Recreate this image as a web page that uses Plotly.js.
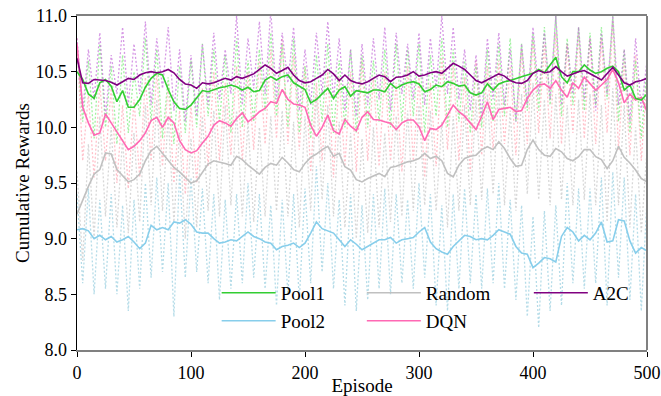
<!DOCTYPE html>
<html><head><meta charset="utf-8">
<script src="https://cdn.plot.ly/plotly-3.0.1.min.js"></script>
<style>html,body{margin:0;padding:0;background:#fff}#chart{width:661px;height:396px}</style>
</head><body><div id="chart"></div>
<script>
const seriesNames = ["Pool1", "Pool2", "Random", "DQN", "A2C"];
const smoothColors = ["#32cd32", "#87ceeb", "#c0c0c0", "#ff69b4", "#800080"];
const rawColors = ["rgba(144,238,144,0.85)", "rgba(173,216,230,0.9)", "rgba(211,211,211,0.9)", "rgba(255,182,193,0.85)", "rgba(186,85,211,0.6)"];

// smoothed curves, one value every 5 episodes (0..500)
const pool1Smooth = [10.50,10.43,10.30,10.26,10.40,10.43,10.37,10.23,10.33,10.18,
 10.18,10.25,10.36,10.44,10.485,10.47,10.34,10.23,10.17,10.16,
 10.20,10.26,10.33,10.32,10.34,10.355,10.365,10.38,10.365,10.335,
 10.36,10.32,10.33,10.425,10.455,10.425,10.455,10.47,10.40,10.37,
 10.34,10.22,10.25,10.30,10.35,10.26,10.335,10.365,10.28,10.33,
 10.32,10.31,10.335,10.335,10.32,10.395,10.35,10.38,10.40,10.41,
 10.39,10.32,10.34,10.38,10.365,10.41,10.395,10.37,10.38,10.31,
 10.29,10.31,10.39,10.335,10.39,10.41,10.42,10.44,10.455,10.47,
 10.485,10.52,10.49,10.56,10.63,10.455,10.40,10.50,10.50,10.56,
 10.515,10.485,10.50,10.53,10.55,10.50,10.335,10.38,10.26,10.245,
 10.30];
const pool2Smooth = [9.08,9.09,9.07,9.00,9.03,8.99,9.02,8.97,8.99,9.02,
 8.97,8.91,8.96,9.12,9.08,9.10,9.08,9.15,9.14,9.17,
 9.13,9.06,9.05,9.05,9.00,8.96,8.97,8.99,8.98,9.02,
 9.06,9.02,9.00,8.97,8.96,8.90,8.93,8.94,8.96,8.92,
 8.96,9.05,9.15,9.09,9.07,9.05,8.99,8.93,8.99,8.95,
 8.90,8.93,8.96,8.99,8.99,9.01,8.96,8.99,9.00,9.01,
 9.06,9.10,8.97,8.91,8.88,8.86,8.93,8.98,9.03,9.02,
 8.99,9.00,8.99,9.03,9.08,9.06,9.04,8.93,8.87,8.86,
 8.74,8.78,8.83,8.82,8.79,9.02,9.10,9.06,8.98,9.03,
 8.99,9.05,9.15,8.97,8.98,9.17,9.16,8.98,8.87,8.92,
 8.89];
const randomSmooth = [9.22,9.35,9.47,9.58,9.62,9.77,9.76,9.62,9.56,9.51,
 9.53,9.58,9.70,9.79,9.83,9.77,9.71,9.64,9.60,9.55,
 9.50,9.52,9.60,9.67,9.70,9.69,9.676,9.66,9.74,9.71,
 9.66,9.62,9.58,9.64,9.676,9.66,9.73,9.68,9.62,9.60,
 9.676,9.73,9.76,9.80,9.83,9.74,9.766,9.646,9.616,9.53,
 9.51,9.54,9.56,9.586,9.556,9.64,9.65,9.67,9.69,9.70,
 9.72,9.766,9.72,9.74,9.70,9.586,9.556,9.66,9.72,9.74,
 9.75,9.80,9.826,9.80,9.87,9.81,9.72,9.65,9.66,9.80,
 9.886,9.80,9.75,9.74,9.81,9.78,9.72,9.70,9.736,9.80,
 9.80,9.736,9.71,9.63,9.70,9.83,9.73,9.68,9.616,9.54,
 9.51];
const dqnSmooth = [10.75,10.18,10.04,9.93,9.95,10.12,10.04,9.96,9.88,9.80,
 9.83,9.88,9.95,10.06,10.09,10.00,10.09,10.04,9.88,9.80,
 9.77,9.79,9.86,9.92,10.02,10.06,10.04,10.01,10.08,10.13,
 10.05,10.09,10.14,10.17,10.23,10.215,10.34,10.25,10.21,10.20,
 10.18,10.02,9.92,10.00,10.11,9.97,9.94,10.07,10.01,9.97,
 10.09,10.14,10.07,10.066,10.05,10.036,9.98,10.04,10.066,10.066,
 10.006,9.88,9.99,9.98,10.02,10.11,10.20,10.14,10.10,10.04,
 9.98,10.10,10.23,10.07,10.16,10.17,10.18,10.14,10.15,10.26,
 10.335,10.38,10.39,10.35,10.42,10.335,10.27,10.40,10.35,10.45,
 10.39,10.335,10.38,10.43,10.52,10.40,10.22,10.30,10.245,10.27,
 10.14];
const a2cSmooth = [10.62,10.40,10.395,10.43,10.425,10.42,10.405,10.38,10.41,10.44,
 10.43,10.47,10.49,10.50,10.49,10.50,10.52,10.49,10.43,10.39,
 10.38,10.35,10.40,10.39,10.40,10.42,10.44,10.425,10.455,10.44,
 10.46,10.48,10.52,10.56,10.53,10.485,10.51,10.54,10.47,10.42,
 10.40,10.41,10.44,10.47,10.52,10.48,10.42,10.47,10.42,10.40,
 10.39,10.41,10.44,10.47,10.455,10.41,10.45,10.455,10.47,10.50,
 10.46,10.47,10.49,10.50,10.485,10.53,10.575,10.55,10.52,10.47,
 10.42,10.40,10.425,10.455,10.48,10.46,10.42,10.40,10.395,10.42,
 10.485,10.51,10.49,10.50,10.545,10.50,10.46,10.48,10.50,10.51,
 10.485,10.455,10.425,10.48,10.54,10.47,10.40,10.38,10.41,10.42,
 10.44];

// raw (unsmoothed) rewards, one value every 5 episodes (0..500)
const pool1Raw = [10.70,10.05,10.60,9.90,10.75,10.00,10.55,9.85,10.65,9.95,
 10.50,10.10,10.80,10.05,10.70,9.90,10.45,9.85,10.55,9.95,
 10.60,10.00,10.75,10.10,10.70,10.05,10.65,9.95,10.80,10.00,
 10.60,10.05,10.70,10.15,10.85,10.10,10.75,10.00,10.80,9.95,
 10.55,9.90,10.65,10.05,10.75,9.95,10.60,10.00,10.70,9.95,
 10.65,10.00,10.60,10.05,10.70,10.00,10.75,10.05,10.70,10.10,
 10.75,9.95,10.65,10.10,10.80,10.00,10.70,10.05,10.60,9.95,
 10.55,10.00,10.70,10.05,10.75,10.10,10.80,10.05,10.75,10.15,
 10.85,10.15,10.90,10.20,11.00,10.10,10.80,10.20,10.90,10.15,
 10.85,10.20,10.90,10.25,11.00,10.05,10.70,9.95,10.60,9.90,
 10.55];
const pool2Raw = [9.40,8.60,9.45,8.50,9.35,8.55,9.40,8.50,9.30,8.35,
 9.35,8.55,9.50,8.65,9.55,8.70,9.50,8.30,9.60,8.65,
 9.55,8.70,9.45,8.60,9.40,8.45,9.35,8.55,9.40,8.60,
 9.50,8.65,9.40,8.55,9.30,8.40,9.35,8.50,9.40,8.45,
 9.45,8.60,9.65,8.70,9.50,8.55,9.35,8.40,9.40,8.35,
 9.30,8.45,9.40,8.55,9.45,8.50,9.40,8.60,9.35,8.55,
 9.50,8.65,9.40,8.40,9.30,8.35,9.40,8.55,9.45,8.60,
 9.40,8.55,9.45,8.60,9.50,8.55,9.35,8.45,9.30,8.30,
 9.20,8.20,9.25,8.35,9.30,8.40,9.50,8.60,9.45,8.55,
 9.45,8.60,9.55,8.40,9.60,8.65,9.55,8.45,9.40,8.35,
 9.35];
const randomRaw = [9.60,8.80,9.85,9.00,10.10,9.20,10.00,9.10,9.90,9.05,
 9.95,9.15,10.20,9.30,10.25,9.25,10.10,9.15,9.95,9.00,
 9.90,9.10,10.10,9.25,10.15,9.20,10.20,9.30,10.15,9.20,
 10.05,9.15,10.00,9.20,10.10,9.25,10.15,9.20,10.05,9.10,
 10.10,9.25,10.30,9.35,10.20,9.20,10.05,9.10,9.95,9.00,
 9.90,9.05,10.00,9.10,9.95,9.15,10.10,9.20,10.15,9.25,
 10.20,9.30,10.15,9.25,10.05,9.10,10.10,9.25,10.20,9.30,
 10.25,9.35,10.30,9.40,10.35,9.30,10.15,9.25,10.30,9.40,
 10.40,9.35,10.25,9.30,10.30,9.35,10.20,9.30,10.25,9.35,
 10.30,9.30,10.20,9.15,10.35,9.30,10.20,9.10,10.00,9.05,
 9.80];
const dqnRaw = [10.80,9.70,10.30,9.55,10.40,9.70,10.35,9.50,10.20,9.45,
 10.25,9.55,10.45,9.70,10.50,9.65,10.40,9.50,10.15,9.40,
 10.20,9.50,10.35,9.65,10.50,9.70,10.40,9.75,10.55,9.70,
 10.50,9.80,10.60,9.85,10.70,9.90,10.80,9.85,10.65,9.80,
 10.55,9.60,10.40,9.70,10.50,9.55,10.45,9.65,10.50,9.60,
 10.60,9.70,10.45,9.65,10.50,9.70,10.40,9.60,10.55,9.70,
 10.45,9.55,10.40,9.65,10.65,9.80,10.55,9.70,10.45,9.60,
 10.60,9.75,10.55,9.80,10.60,9.85,10.55,9.75,10.70,9.85,
 10.80,9.95,10.75,9.90,10.85,9.85,10.75,9.95,10.85,9.90,
 10.80,9.85,10.80,9.95,10.95,9.80,10.60,9.75,10.65,9.70,
 10.45];
const a2cRaw = [10.80,10.15,10.70,10.25,10.85,10.10,10.65,10.30,10.90,10.20,
 10.75,10.30,10.95,10.20,10.80,10.35,10.90,10.15,10.70,10.05,
 10.65,10.10,10.75,10.20,10.85,10.25,10.70,10.30,11.00,10.20,
 10.80,10.35,10.95,10.30,11.05,10.25,10.85,10.40,10.90,10.15,
 10.70,10.20,10.85,10.30,10.95,10.25,10.80,10.15,10.70,10.10,
 10.75,10.20,10.80,10.25,10.90,10.15,10.85,10.30,10.75,10.25,
 10.85,10.20,10.80,10.35,11.00,10.30,10.90,10.25,10.70,10.15,
 10.65,10.10,10.80,10.25,10.85,10.20,10.70,10.05,10.75,10.20,
 10.90,10.30,10.85,10.25,11.00,10.20,10.75,10.30,10.90,10.25,
 10.80,10.15,10.85,10.30,11.00,10.20,10.70,10.05,10.80,10.15,
 10.60];

const xTickVals = [0, 100, 200, 300, 400, 500];
const yTickVals = [8.0, 8.5, 9.0, 9.5, 10.0, 10.5, 11.0];

const episodes = [];
for (let e = 0; e <= 500; e += 5) episodes.push(e);

const smooth = [pool1Smooth, pool2Smooth, randomSmooth, dqnSmooth, a2cSmooth];
const raw = [pool1Raw, pool2Raw, randomRaw, dqnRaw, a2cRaw];
// one legend box per entry: columns (Pool1,Pool2) (Random,DQN) (A2C)
const legendIds = ['legend', 'legend2', 'legend3', 'legend4', 'legend5'];
const legendCol = [0.245, 0.245, 0.4997, 0.4997, 0.7927];
const legendRowY = [0.171, 0.087, 0.171, 0.087, 0.171];
const rawOrder = [1, 2, 3, 0, 4];

const traces = [];
rawOrder.forEach(i => {
  traces.push({x: episodes, y: raw[i], type: 'scatter', mode: 'lines',
    line: {color: rawColors[i], width: 1.3, dash: '2px,2px'}, showlegend: false, hoverinfo: 'skip'});
});
[1, 2, 3, 0, 4].forEach(i => {
  traces.push({x: episodes, y: smooth[i], type: 'scatter', mode: 'lines', name: seriesNames[i],
    line: {color: smoothColors[i], width: 1.6}, legend: legendIds[i]});
});

const font = "Liberation Serif, Times New Roman, serif";
const layout = {
  width: 661, height: 396,
  margin: {l: 77, r: 14, t: 16, b: 46},
  paper_bgcolor: '#fff', plot_bgcolor: '#fff',
  font: {family: font, color: '#000', size: 17},
  showlegend: true,
  xaxis: {range: [0, 500], tickvals: xTickVals, ticks: 'outside', ticklen: 5, tickwidth: 1,
    tickcolor: '#000', showgrid: false, zeroline: false, showline: true, linecolor: '#808080',
    linewidth: 2, mirror: true, tickfont: {family: font, size: 18},
    title: {text: 'Episode', font: {family: font, size: 19}, standoff: 4}},
  yaxis: {range: [8.0, 11.0], tickvals: yTickVals, tickformat: '.1f', ticks: 'outside', ticklen: 5,
    tickwidth: 1, tickcolor: '#000', showgrid: false, zeroline: false, showline: true,
    linecolor: '#000', linewidth: 1.5, tickfont: {family: font, size: 18},
    title: {text: 'Cumulative Rewards', font: {family: font, size: 19}, standoff: 1}},
  shapes: [{type: 'line', xref: 'paper', yref: 'paper', x0: 1, x1: 1, y0: 0, y1: 1,
    line: {color: '#808080', width: 2}}]
};
legendIds.forEach((id, i) => {
  layout[id] = {orientation: 'v', xanchor: 'left', yanchor: 'middle', x: legendCol[i], y: legendRowY[i],
    bgcolor: 'rgba(0,0,0,0)', font: {family: font, size: 19, color: '#000'}, itemwidth: 54};
});
Plotly.newPlot('chart', traces, layout, {staticPlot: true, displayModeBar: false});
</script></body></html>
